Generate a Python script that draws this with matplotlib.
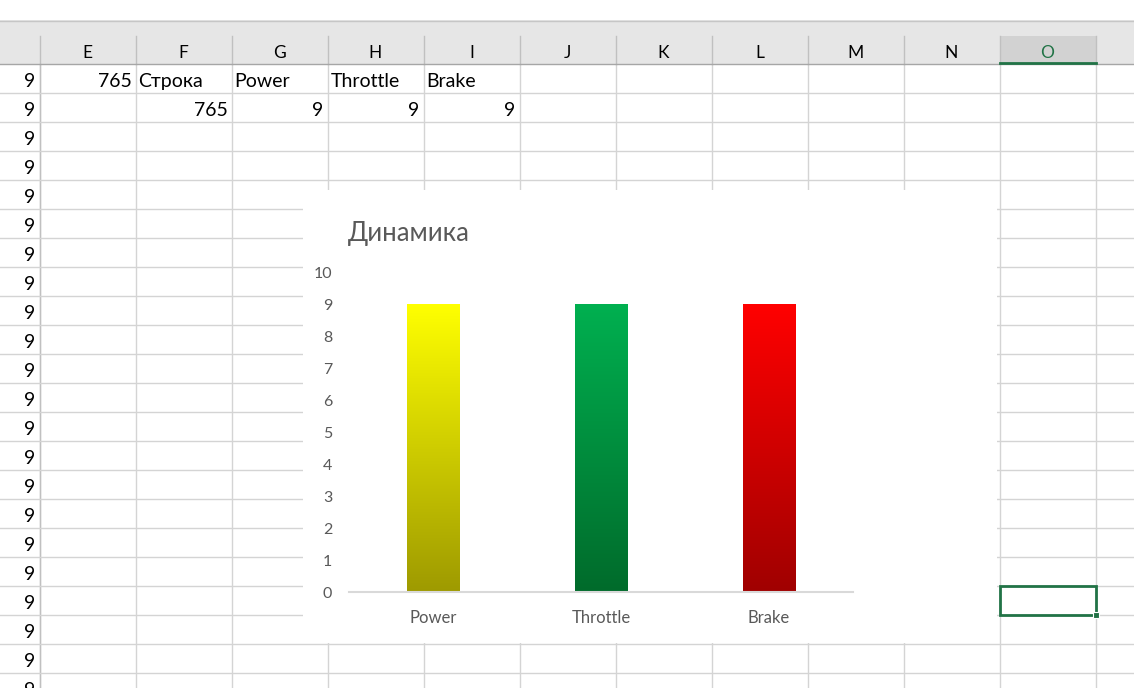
import matplotlib
matplotlib.use('Agg')
import matplotlib.pyplot as plt
import matplotlib.patches as mpatches
from matplotlib.colors import LinearSegmentedColormap
import numpy as np

plt.rcParams['font.family'] = ['Lato', 'Noto Sans', 'DejaVu Sans']

# sheet contents
col_letters = ['E', 'F', 'G', 'H', 'I', 'J', 'K', 'L', 'M', 'N', 'O']
row_labels = ['9'] * 22
row1_cells = ['765', 'Строка', 'Power', 'Throttle', 'Brake']
row2_cells = ['', '765', '9', '9', '9']

# chart data
chart_title = 'Динамика'
categories = ['Power', 'Throttle', 'Brake']
values = [9, 9, 9]
top_colors = ['#ffff00', '#00b050', '#ff0000']
bottom_colors = ['#9e9a00', '#006b2b', '#a00000']

W, H = 1134, 688
fig = plt.figure(figsize=(W / 100, H / 100), dpi=100)
bg = fig.add_axes([0, 0, 1, 1])
bg.set_xlim(0, W)
bg.set_ylim(H, 0)
bg.axis('off')

col_w = 96
x0 = 39.5
row_h = 29
y0 = 64
grid_c = '#d4d4d4'
txt_c = '#000000'

# column header band
bg.add_patch(mpatches.Rectangle((0, 20), W, 44, facecolor='#e6e6e6', edgecolor='none', zorder=1))
bg.plot([0, W], [20.5, 20.5], color='#c6c6c6', lw=1, zorder=2)
sel_col = len(col_letters) - 1
bg.add_patch(mpatches.Rectangle((x0 + sel_col * col_w, 36), col_w, 28, facecolor='#d2d2d2', edgecolor='none', zorder=1))

# grid
for i in range(len(col_letters) + 1):
    x = x0 + i * col_w
    bg.plot([x, x], [36, 64], color='#c0c0c0', lw=1, zorder=2)
    bg.plot([x, x], [64, H], color=grid_c, lw=1, zorder=1)
bg.plot([x0, x0], [64, H], color='#c0c0c0', lw=1, zorder=1)
for k in range(1, 23):
    y = y0 + k * row_h
    bg.plot([0, W], [y, y], color=grid_c, lw=1, zorder=1)
bg.plot([0, W], [64, 64], color='#a6a6a6', lw=1, zorder=2)
bg.plot([x0 + sel_col * col_w, x0 + (sel_col + 1) * col_w], [63, 63], color='#217346', lw=2, zorder=3)

for i, c in enumerate(col_letters):
    bg.text(x0 + (i + 0.5) * col_w, 58, c, ha='center', va='baseline', fontsize=12.5,
            color='#217346' if i == sel_col else txt_c, zorder=4)

for k, lab in enumerate(row_labels):
    bg.text(35, y0 + (k + 1) * row_h - 6, lab, ha='right', va='baseline', fontsize=14, color=txt_c, zorder=4)

def put_cell(col, row, s):
    if s == '':
        return
    base = y0 + (row + 1) * row_h - 6
    try:
        float(s)
        bg.text(x0 + (col + 1) * col_w - 4, base, s, ha='right', va='baseline', fontsize=14, color=txt_c, zorder=4)
    except ValueError:
        bg.text(x0 + col * col_w + 3, base, s, ha='left', va='baseline', fontsize=14, color=txt_c, zorder=4)

for i, s in enumerate(row1_cells):
    put_cell(i, 0, s)
for i, s in enumerate(row2_cells):
    put_cell(i, 1, s)

# selected cell O19
sx, sy = x0 + sel_col * col_w, y0 + 18 * row_h
bg.add_patch(mpatches.Rectangle((sx, sy), col_w, row_h, facecolor='none', edgecolor='#217346', lw=2, zorder=5))
bg.add_patch(mpatches.Rectangle((sx + col_w - 3, sy + row_h - 3), 6, 6, facecolor='#217346', edgecolor='white', lw=0.8, zorder=6))

# chart area
bg.add_patch(mpatches.Rectangle((303, 190), 694, 453, facecolor='white', edgecolor='none', zorder=7))
bg.text(348, 241, chart_title, ha='left', va='baseline', fontsize=18.5, color='#595959', zorder=8)

ax = fig.add_axes([349 / W, (H - 592) / H, 504 / W, 320 / H], zorder=10)
ax.patch.set_alpha(0)
bars = ax.bar(range(len(categories)), values, width=0.315, color='none', edgecolor='none')
for b, ct, cb in zip(bars, top_colors, bottom_colors):
    cmap = LinearSegmentedColormap.from_list('g', [cb, ct])
    grad = np.linspace(0, 1, 256).reshape(-1, 1)
    ax.imshow(grad, cmap=cmap, aspect='auto', origin='lower',
              extent=(b.get_x(), b.get_x() + b.get_width(), 0, b.get_height()), zorder=2)
ax.set_xlim(-0.5, len(categories) - 0.5)
ax.set_ylim(0, 10)
ax.set_yticks(range(0, 11))
ax.set_xticks(range(len(categories)))
ax.set_xticklabels(categories)
for s in ['top', 'left', 'right']:
    ax.spines[s].set_visible(False)
ax.spines['bottom'].set_color('#d9d9d9')
ax.spines['bottom'].set_linewidth(1.5)
ax.tick_params(axis='y', length=0, pad=12, labelsize=11.5, labelcolor='#595959')
ax.tick_params(axis='x', length=0, pad=13, labelsize=12, labelcolor='#595959')

fig.savefig('out.png', dpi=100)
